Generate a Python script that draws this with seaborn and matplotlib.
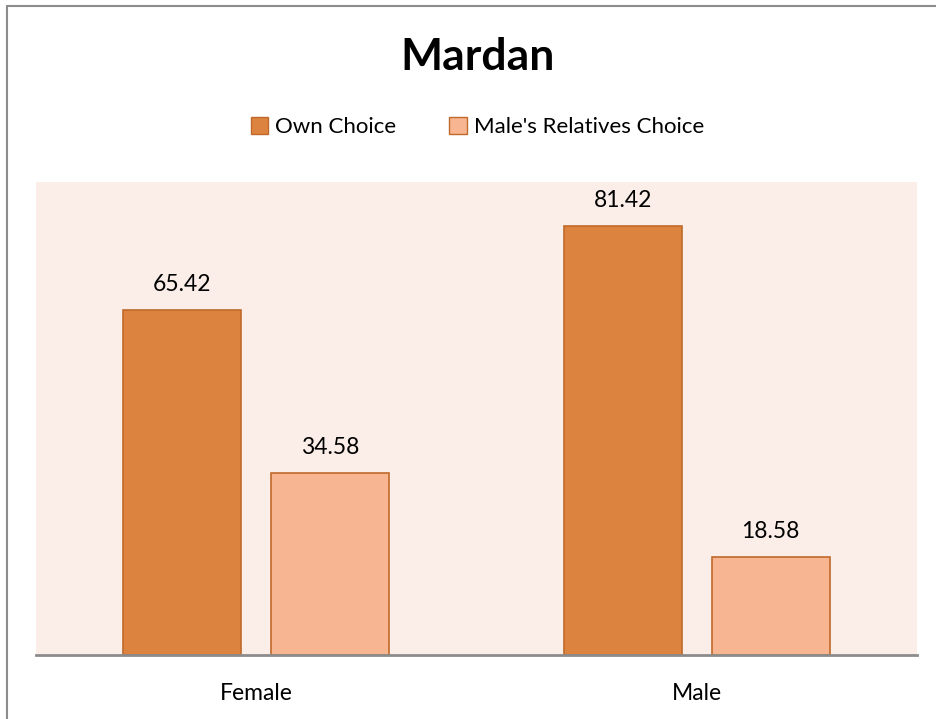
import pandas as pd
import matplotlib.pyplot as plt
import seaborn as sns
from matplotlib.lines import Line2D

# chart data
genders = ['Female', 'Male']
series = ['Own Choice', "Male's Relatives Choice"]
own_choice = [65.42, 81.42]
relatives_choice = [34.58, 18.58]

df = pd.DataFrame({
    'Gender': genders * 2,
    'Choice': [series[0]] * 2 + [series[1]] * 2,
    'Percent': own_choice + relatives_choice,
})

sns.set_style('white')
plt.rcParams['font.family'] = ['Lato', 'DejaVu Sans']
plt.rcParams['text.color'] = 'black'

fig = plt.figure(figsize=(9.36, 7.19), dpi=100)
ax = fig.add_axes([36 / 936, 1 - 655 / 719, 881 / 936, 473 / 719])

palette = {series[0]: '#DC843F', series[1]: '#F8B592'}
sns.barplot(data=df, x='Gender', y='Percent', hue='Choice', order=genders,
            hue_order=series, palette=palette, width=0.67, gap=0.2,
            edgecolor='#C0692A', linewidth=1.2, saturation=1, ax=ax, legend=False)

ax.set_facecolor('#FBEEE9')
ax.set_xlim(-0.5, 1.5)
ax.set_ylim(0, 89.8)
ax.set_yticks([])
ax.set_xlabel('')
ax.set_ylabel('')
for side in ['top', 'right', 'left']:
    ax.spines[side].set_visible(False)
ax.spines['bottom'].set_color('#8C8C8C')
ax.spines['bottom'].set_linewidth(2)
ax.tick_params(axis='x', length=0, labelsize=16.5, pad=20, labelcolor='black')

for cont in ax.containers:
    ax.bar_label(cont, fmt='%.2f', padding=11, fontsize=16.5, color='black')

# title and legend
fig.text(0.51, 1 - 57 / 719, 'Mardan', ha='center', va='center',
         fontsize=32, fontweight='bold', color='black')
handles = [plt.Rectangle((0, 0), 1, 1, facecolor=palette[s], edgecolor='#C0692A')
           for s in series]
fig.legend(handles, series, loc='center', bbox_to_anchor=(0.51, 1 - 127 / 719),
           ncol=2, frameon=False, fontsize=16, handlelength=0.8, handleheight=0.8,
           handletextpad=0.3, columnspacing=2.4)

# chart frame (left and top visible)
fig.add_artist(Line2D([6.5 / 936, 6.5 / 936], [0, 1 - 5.5 / 719], transform=fig.transFigure,
                      color='#8C8C8C', linewidth=1.5))
fig.add_artist(Line2D([6.5 / 936, 1], [1 - 5.5 / 719, 1 - 5.5 / 719], transform=fig.transFigure,
                      color='#8C8C8C', linewidth=1.5))

fig.savefig('out.png', dpi=100)
